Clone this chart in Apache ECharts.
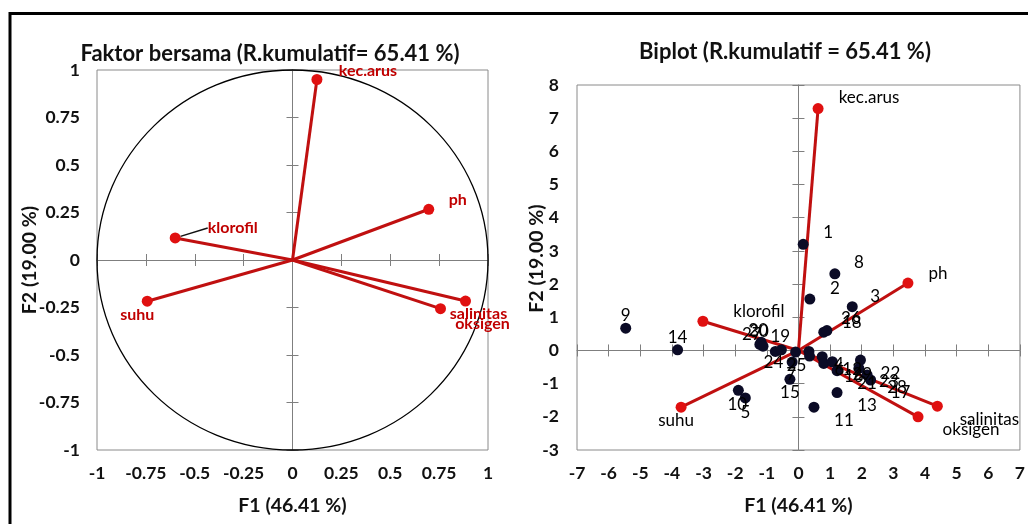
<!DOCTYPE html>
<html><head><meta charset="utf-8">
<script src="https://cdn.jsdelivr.net/npm/echarts@6/dist/echarts.min.js"></script>
<style>html,body{margin:0;padding:0;background:#fff}#c{width:1028px;height:524px}</style>
</head><body><div id="c"></div>
<script>
// ---- data ----
const variableNames = ['kec.arus', 'ph', 'klorofil', 'suhu', 'salinitas', 'oksigen'];
const loadingF1 = [0.125, 0.697, -0.600, -0.743, 0.885, 0.757];
const loadingF2 = [0.950, 0.267, 0.116, -0.217, -0.216, -0.256];
const biplotVarF1 = [0.62, 3.46, -3.02, -3.71, 4.39, 3.78];
const biplotVarF2 = [7.29, 2.03, 0.88, -1.71, -1.68, -2.00];
const obsNames = ['1','2','3','4','5','6','7','8','9','10','11','12','13','14','15','16','17','18','19','20','21','22','23','24','25','26','27','28','29','30'];
const obsF1 = [0.15, 0.36, 1.70, 0.33, -1.68, 0.35, -0.20, 1.15, -5.46, -1.90, 0.49, 0.75, 1.22, -3.82, -0.27, 0.80, 2.28, 0.80, -0.73, -1.18, 1.22, 1.96, 1.91, -0.54, -0.09, 0.90, -1.22, 2.17, 1.07, -1.12];
const obsF2 = [3.20, 1.55, 1.32, -0.03, -1.43, -0.17, -0.35, 2.31, 0.67, -1.20, -1.71, -0.19, -1.27, 0.02, -0.87, -0.39, -0.89, 0.55, -0.03, 0.25, -0.61, -0.29, -0.54, 0.02, -0.05, 0.60, 0.18, -0.74, -0.34, 0.13];
const titleLeft = 'Faktor bersama (R.kumulatif= 65.41 %)';
const titleRight = 'Biplot (R.kumulatif = 65.41 %)';
const xName = 'F1 (46.41 %)';
const yName = 'F2 (19.00 %)';
const corrAxis = {min: -1, max: 1, interval: 0.25};
const biX = {min: -7, max: 7, interval: 1};
const biY = {min: -3, max: 8, interval: 1};

// ---- styles (label placement) ----
const corrLabelOffset = {'kec.arus':[51,-9], 'ph':[29,-9], 'klorofil':[58,-10], 'suhu':[-10,14], 'salinitas':[13,13], 'oksigen':[42,15]};
const biVarLabelOffset = {'kec.arus':[51,-11], 'ph':[30,-10], 'klorofil':[56,-10], 'suhu':[-5,13], 'salinitas':[52,13], 'oksigen':[53,13]};
const obsLabelOffset = {'1':[25,-12], '2':[25,-11], '3':[23,-10], '8':[24,-11], '18':[28,-10], '26':[24,-12], '9':[0,-13], '14':[0,-12], '20':[-3,-12], '30':[-4,-15], '27':[-8,-10], '19':[5,-15], '24':[-8,13], '25':[1,13], '7':[-1,12], '15':[0,13], '10':[-1,14], '5':[0,15]};

const FONT = 'Lato';
const RED_LINE = '#c01010';
const RED_DOT = '#e01010';
const GRAY = '#7f7f7f';

function axisSet(gridIndex, range, dim, name, labelMargin, nameGap, namePadding) {
  const base = {gridIndex, type: 'value', min: range.min, max: range.max, interval: range.interval, splitLine: {show: false}, animation: false};
  const labelAxis = Object.assign({}, base, {
    position: dim === 'x' ? 'bottom' : 'left',
    axisLine: {show: false, onZero: false},
    axisTick: {show: false},
    axisLabel: {show: true, margin: labelMargin, fontFamily: FONT, fontSize: 17.5, fontWeight: 'bold', color: '#111'},
    name: name, nameLocation: 'middle', nameGap: nameGap, nameMoveOverlap: false,
    nameTextStyle: {fontFamily: FONT, fontSize: 19.5, fontWeight: 'bold', color: '#111', padding: namePadding || 0}
  });
  const zeroIn = Object.assign({}, base, {
    axisLine: {show: true, onZero: true, lineStyle: {color: GRAY, width: 1}},
    axisTick: {show: true, inside: true, length: 6, lineStyle: {color: GRAY, width: 1}},
    axisLabel: {show: false}
  });
  const zeroOut = Object.assign({}, base, {
    axisLine: {show: false, onZero: true},
    axisTick: {show: true, inside: false, length: 6, lineStyle: {color: GRAY, width: 1}},
    axisLabel: {show: false}
  });
  return [labelAxis, zeroIn, zeroOut];
}

const xAxes = [].concat(axisSet(0, corrAxis, 'x', xName, 14, 46), axisSet(1, biX, 'x', xName, 14, 46));
const yAxes = [].concat(axisSet(0, corrAxis, 'y', yName, 17, 57), axisSet(1, biY, 'y', yName, 18, 30, [0, 0, 0, 18]));

const series = [];

// correlation circle
series.push({
  type: 'custom', xAxisIndex: 0, yAxisIndex: 0, silent: true, clip: false,
  data: [[0, 0, 1]],
  renderItem: function (params, api) {
    const c = api.coord([api.value(0), api.value(1)]);
    const s = api.size([api.value(2), api.value(2)]);
    return {type: 'ellipse', shape: {cx: c[0], cy: c[1], rx: s[0], ry: s[1]}, style: {fill: 'none', stroke: '#000', lineWidth: 1.3}};
  },
  z: 1
});

// loadings (left)
variableNames.forEach(function (name, i) {
  const isKlor = name === 'klorofil';
  const lbl = isKlor
    ? {show: true, position: 'right', distance: 0, formatter: name, fontFamily: FONT, fontSize: 16, fontWeight: 'bold', color: '#c00000'}
    : {show: true, position: 'inside', offset: corrLabelOffset[name], formatter: name, fontFamily: FONT, fontSize: 16, fontWeight: 'bold', color: '#c00000'};
  const s = {
    type: 'line', xAxisIndex: 0, yAxisIndex: 0, clip: false,
    lineStyle: {color: RED_LINE, width: 3}, itemStyle: {color: RED_DOT},
    symbol: 'circle', symbolSize: 11, showAllSymbol: true,
    data: [
      {value: [0, 0], symbol: 'none', label: {show: false}},
      {value: [loadingF1[i], loadingF2[i]], label: lbl}
    ],
    z: 3
  };
  if (isKlor) {
    s.labelLayout = function (p) { return p.dataIndex === 1 ? {dx: 27, dy: -10} : {}; };
    s.labelLine = {show: true, length2: 0, lineStyle: {color: '#111', width: 1.5}};
  }
  series.push(s);
});

// biplot variables (right)
variableNames.forEach(function (name, i) {
  series.push({
    type: 'line', xAxisIndex: 3, yAxisIndex: 3, clip: false,
    lineStyle: {color: RED_LINE, width: 3}, itemStyle: {color: RED_DOT},
    symbol: 'circle', symbolSize: 11, showAllSymbol: true,
    data: [
      {value: [0, 0], symbol: 'none', label: {show: false}},
      {value: [biplotVarF1[i], biplotVarF2[i]], label: {show: true, position: 'inside', offset: biVarLabelOffset[name], formatter: name,
        fontFamily: FONT, fontSize: 17, color: '#000'}}
    ],
    z: 3
  });
});

// observations
series.push({
  type: 'scatter', xAxisIndex: 3, yAxisIndex: 3, clip: false,
  symbol: 'circle', symbolSize: 11,
  itemStyle: {color: '#0b0b26', opacity: 1},
  data: obsNames.map(function (n, i) {
    return {value: [obsF1[i], obsF2[i]], name: n,
      label: {show: true, position: 'inside', offset: obsLabelOffset[n] || [30, 13], formatter: n,
        fontFamily: FONT, fontSize: 17, color: '#000', opacity: 1}};
  }),
  z: 4
});

const chart = echarts.init(document.getElementById('c'), null, {renderer: 'canvas'});
chart.setOption({
  animation: false,
  backgroundColor: '#fff',
  title: [
    {text: titleLeft, left: 265, top: 38, textAlign: 'center', textStyle: {fontFamily: FONT, fontSize: 22, fontWeight: 'bold', color: '#111'}},
    {text: titleRight, left: 780, top: 36, textAlign: 'center', textStyle: {fontFamily: FONT, fontSize: 22, fontWeight: 'bold', color: '#111'}}
  ],
  grid: [
    {left: 97, top: 70, width: 391, height: 380, show: true, borderColor: '#8a8a8a', borderWidth: 1, backgroundColor: 'transparent'},
    {left: 577, top: 85, width: 443, height: 365, show: true, borderColor: '#8a8a8a', borderWidth: 1, backgroundColor: 'transparent'}
  ],
  xAxis: xAxes,
  yAxis: yAxes,
  graphic: [
    {type: 'rect', shape: {x: 10, y: 13.5, width: 1100, height: 600}, style: {fill: 'none', stroke: '#000', lineWidth: 3}, silent: true, z: 100}
  ],
  series: series
});
</script>
</body></html>
